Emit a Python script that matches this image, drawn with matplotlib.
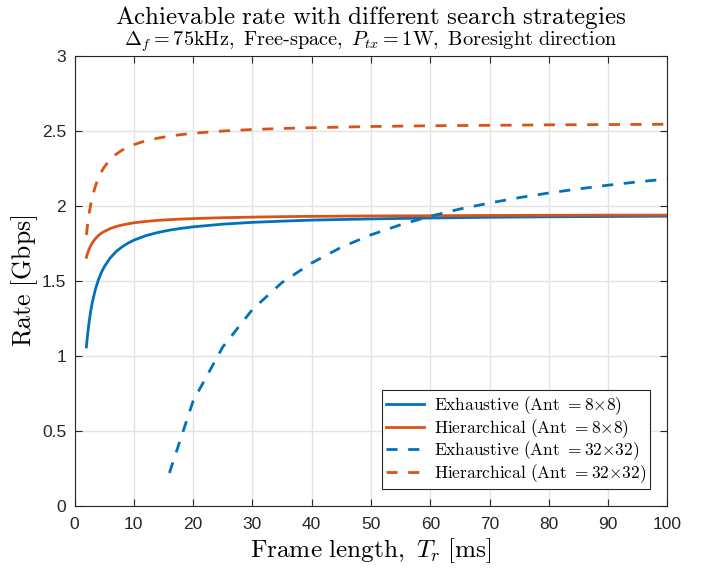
import matplotlib
matplotlib.use('Agg')
import matplotlib.pyplot as plt

# Frame length T_r [ms] and rate [Gbps]
t_fine = [2, 2.25, 2.5, 2.75, 3, 3.5, 4, 4.5, 5, 6, 7, 8, 9, 10, 12, 14, 16, 18, 20,
          25, 30, 35, 40, 50, 60, 70, 80, 90, 100]
exh_8 = [1.060, 1.159, 1.238, 1.303, 1.357, 1.441, 1.505, 1.554, 1.594, 1.653, 1.696,
         1.727, 1.752, 1.772, 1.802, 1.823, 1.839, 1.851, 1.861, 1.879, 1.891, 1.899,
         1.906, 1.914, 1.920, 1.925, 1.928, 1.930, 1.932]
hier_8 = [1.658, 1.690, 1.716, 1.736, 1.754, 1.781, 1.802, 1.818, 1.830, 1.849, 1.863,
          1.873, 1.881, 1.888, 1.897, 1.904, 1.909, 1.913, 1.916, 1.922, 1.926, 1.929,
          1.931, 1.934, 1.935, 1.937, 1.938, 1.939, 1.939]
hier_32 = [1.807, 1.891, 1.958, 2.013, 2.058, 2.130, 2.184, 2.226, 2.259, 2.309, 2.345,
           2.372, 2.393, 2.409, 2.435, 2.452, 2.466, 2.476, 2.485, 2.500, 2.510, 2.517,
           2.522, 2.530, 2.535, 2.538, 2.541, 2.543, 2.545]

t_exh32 = [16, 20, 25, 30, 35, 40, 45, 50, 55, 60, 65, 70, 75, 80, 85, 90, 95, 100]
exh_32 = [0.22, 0.70, 1.06, 1.31, 1.49, 1.62, 1.725, 1.808, 1.875, 1.932, 1.980,
          2.020, 2.056, 2.087, 2.114, 2.139, 2.161, 2.180]

labels = [r'$\mathrm{Exhaustive\ (Ant\ }{=}8{\times}8\mathrm{)}$',
          r'$\mathrm{Hierarchical\ (Ant\ }{=}8{\times}8\mathrm{)}$',
          r'$\mathrm{Exhaustive\ (Ant\ }{=}32{\times}32\mathrm{)}$',
          r'$\mathrm{Hierarchical\ (Ant\ }{=}32{\times}32\mathrm{)}$']

blue = '#0072BD'
orange = '#D95319'
dark = '#262626'

plt.rcParams['font.family'] = ['Liberation Sans', 'DejaVu Sans']
plt.rcParams['mathtext.fontset'] = 'cm'

fig = plt.figure(figsize=(7.11, 5.74), dpi=100)
ax = fig.add_axes([0.1048, 0.1185, 0.8340, 0.7839])

ax.plot(t_fine, exh_8, color=blue, lw=2, label=labels[0])
ax.plot(t_fine, hier_8, color=orange, lw=2, label=labels[1])
ax.plot(t_exh32, exh_32, color=blue, lw=2, dashes=(4, 3.8), label=labels[2])
ax.plot(t_fine, hier_32, color=orange, lw=2, dashes=(4, 3.8), label=labels[3])

ax.set_xlim(0, 100)
ax.set_ylim(0, 3)
ax.set_xticks(range(0, 101, 10))
ax.set_yticks([0, 0.5, 1, 1.5, 2, 2.5, 3])
ax.set_yticklabels(['0', '0.5', '1', '1.5', '2', '2.5', '3'])
ax.grid(True, color='#e3e3e3', lw=1)
ax.set_axisbelow(True)
ax.tick_params(direction='in', top=True, right=True, length=5, width=0.8,
               labelsize=12.5, colors=dark)
ax.tick_params(axis='x', pad=8)
ax.tick_params(axis='y', pad=6)
for s in ax.spines.values():
    s.set_color(dark)
    s.set_linewidth(0.8)

ax.set_xlabel(r'$\mathrm{Frame\ length,\ }T_r\ \mathrm{[ms]}$', fontsize=18.2, labelpad=3)
ax.set_ylabel(r'$\mathrm{Rate\ [Gbps]}$', fontsize=18.5, labelpad=1)

fig.text(0.5216, 0.958,
         r'$\mathrm{Achievable\ rate\ with\ different\ search\ strategies}$',
         ha='center', va='baseline', fontsize=18)
fig.text(0.5216, 0.920,
         r'$\Delta_f=75\mathrm{kHz,\ Free\text{-}space,\ }P_{tx}=1\mathrm{W,\ Boresight\ direction}$',
         ha='center', va='baseline', fontsize=14.6)

leg = ax.legend(loc='lower right', fontsize=12.5, handlelength=2.2, handletextpad=0.6,
                borderaxespad=0.98, labelspacing=0.0, fancybox=False, framealpha=1,
                edgecolor=dark, borderpad=0.22)
leg.get_frame().set_linewidth(0.8)

fig.savefig('out.png', dpi=100)
